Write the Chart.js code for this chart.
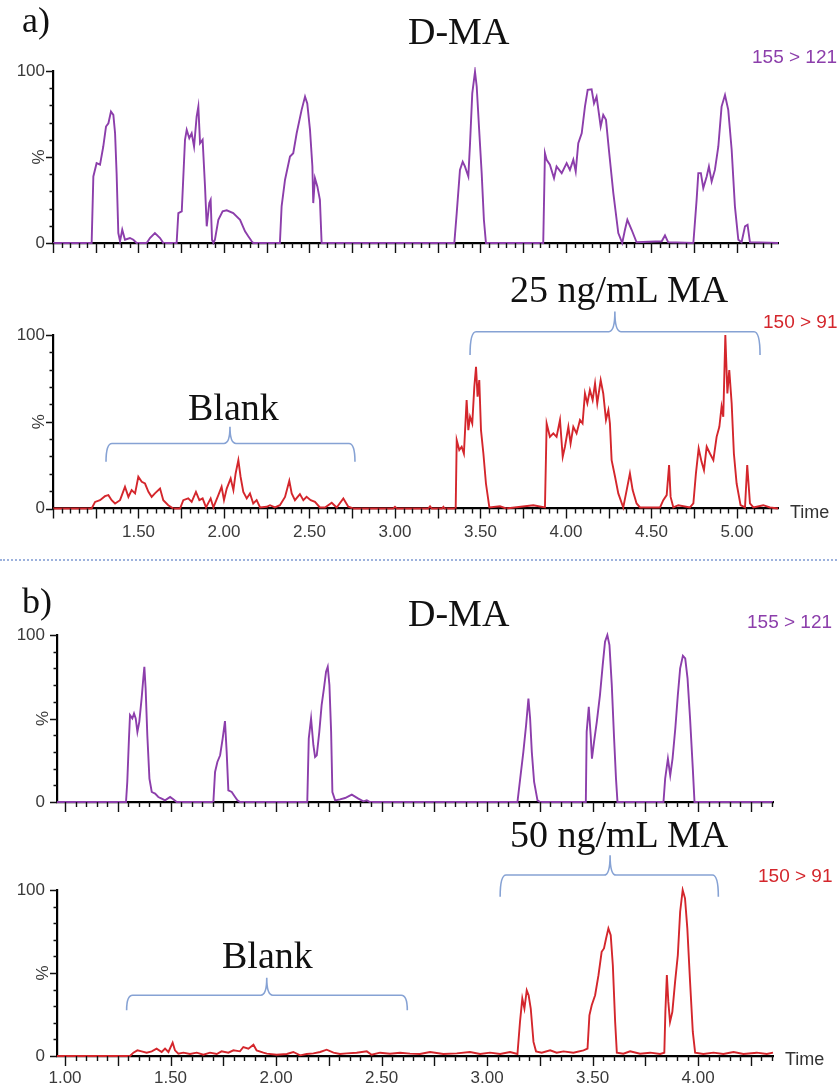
<!DOCTYPE html>
<html>
<head>
<meta charset="utf-8">
<script src="https://cdn.jsdelivr.net/npm/chart.js@4.4.0/dist/chart.umd.min.js"></script>
<style>
  body { margin: 0; background: #fff; width: 837px; height: 1091px; position: relative; overflow: hidden; }
  .panel { position: absolute; left: 0; width: 837px; }
  .lbl { position: absolute; white-space: nowrap; line-height: 1; }
  .serif { font-family: "Liberation Serif", "Times New Roman", serif; color: #111; }
  .sans { font-family: "Liberation Sans", Arial, sans-serif; }
  #sep { position: absolute; left: 0; width: 837px; top: 559px; border-top: 2px dotted #9db2dd; }
</style>
</head>
<body>
<div class="panel" style="top:0;height:265px"><canvas id="cA1"></canvas></div>
<div class="panel" style="top:265px;height:290px"><canvas id="cA2"></canvas></div>
<div id="sep"></div>
<div class="panel" style="top:565px;height:265px"><canvas id="cB1"></canvas></div>
<div class="panel" style="top:835px;height:256px"><canvas id="cB2"></canvas></div>
<script>
// a) D-MA, 155 > 121
const tA1 = [1.00, 1.226, 1.236, 1.255, 1.275, 1.294, 1.310, 1.324, 1.339, 1.353, 1.363, 1.372, 1.382, 1.392, 1.405, 1.421, 1.450, 1.470, 1.489, 1.548,
  1.567, 1.596, 1.626, 1.645, 1.723, 1.733, 1.753, 1.772, 1.782, 1.797, 1.811, 1.825, 1.840, 1.850, 1.860, 1.875, 1.889, 1.899, 1.914, 1.922,
  1.930, 1.938, 1.947, 1.967, 1.992, 2.016, 2.054, 2.094, 2.123, 2.142, 2.162, 2.171, 2.327, 2.337, 2.357, 2.386, 2.405, 2.425, 2.454, 2.474,
  2.487, 2.503, 2.517, 2.522, 2.532, 2.546, 2.561, 2.571,
  3.347, 3.361, 3.380, 3.396, 3.409, 3.429, 3.439, 3.452, 3.468, 3.478, 3.491, 3.507, 3.520, 3.532,
  3.867, 3.877, 3.887, 3.906, 3.930, 3.945, 3.975, 4.004, 4.023, 4.043, 4.057, 4.072, 4.092, 4.111, 4.127, 4.150, 4.164, 4.179, 4.203, 4.218,
  4.234, 4.251, 4.277, 4.306, 4.329, 4.345, 4.359, 4.384, 4.413, 4.560, 4.579, 4.598,
  4.745, 4.764, 4.774, 4.789, 4.803, 4.823, 4.836, 4.852, 4.871, 4.891, 4.910, 4.930, 4.949, 4.969, 4.988, 5.008, 5.027, 5.047, 5.062, 5.076, 5.24];
const pA1 = [0, 0, 38.7, 46.4, 45.5, 56.1, 67.7, 69.6, 76.4, 74.5, 63.8, 40.6, 5.8, 1, 7.7, 1.9, 2.9, 1.9, 0, 0,
  2.9, 5.8, 2.9, 0, 0, 17.4, 18.4, 60, 65.8, 60.9, 63.8, 56.1, 73.5, 79.3, 58, 60, 32.9, 9.7, 23.2, 25.1,
  1.9, 0, 1.9, 13.5, 18.4, 19, 17.4, 13.5, 6.8, 3.9, 1, 0, 0, 21.3, 36.8, 50.3, 52.2, 63.8, 77.4, 85.1,
  81.2, 65.8, 44.5, 23.2, 37.7, 32.9, 25.1, 0,
  0, 17.4, 42.5, 47.2, 44.5, 38.7, 58, 87, 99.6, 91, 68, 40.6, 13.5, 0,
  0, 52.2, 48.4, 45.5, 37.7, 44.5, 40.6, 46.4, 42.5, 48.4, 41.6, 58, 63.8, 79.3, 89, 89.4, 81.2, 85.1, 67.7, 74.5,
  71.6, 54.2, 29, 5.8, 0, 7.7, 13.5, 7.7, 0.4, 1, 4.4, 0.4,
  0, 25.1, 40.6, 40.6, 31.9, 38.7, 44.5, 35.8, 42.5, 56.1, 79.3, 86, 77.4, 54.2, 21.3, 1.9, 0.4, 9.7, 10.6, 0.4, 0];

// a) MA, 150 > 91
const tA2 = [1.00, 1.226, 1.246, 1.275, 1.304, 1.324, 1.343, 1.363, 1.392, 1.421, 1.441, 1.460, 1.480, 1.499, 1.519, 1.538, 1.558, 1.577, 1.596, 1.626,
  1.645, 1.674, 1.704, 1.743, 1.762, 1.791, 1.811, 1.836, 1.856, 1.875, 1.895, 1.922, 1.938, 1.967, 1.986, 2.000, 2.016, 2.039, 2.055, 2.068,
  2.084, 2.097, 2.113, 2.133, 2.152, 2.171, 2.191, 2.211, 2.250, 2.269, 2.298, 2.327, 2.357, 2.382, 2.396, 2.415, 2.444, 2.464, 2.483, 2.507,
  2.532, 2.561, 2.591, 2.630, 2.659, 2.698, 2.727, 2.756, 2.990, 3.000, 3.010, 3.195, 3.205, 3.215, 3.275, 3.283, 3.290, 3.355,
  3.361, 3.376, 3.390, 3.403, 3.419, 3.429, 3.439, 3.452, 3.464, 3.474, 3.483, 3.493, 3.503, 3.517, 3.532, 3.552, 3.614, 3.650, 3.809, 3.877,
  3.887, 3.906, 3.926, 3.945, 3.965, 3.981, 3.994, 4.014, 4.027, 4.043, 4.062, 4.082, 4.097, 4.111, 4.125, 4.140, 4.156, 4.170, 4.183, 4.203,
  4.218, 4.234, 4.248, 4.257, 4.267, 4.287, 4.306, 4.335, 4.355, 4.374, 4.390, 4.413, 4.433, 4.550, 4.569, 4.589, 4.603, 4.612, 4.628, 4.657,
  4.725, 4.745, 4.760, 4.776, 4.793, 4.807, 4.823, 4.842, 4.862, 4.881, 4.897, 4.910, 4.920, 4.932, 4.944, 4.955, 4.969, 4.982, 4.998, 5.021,
  5.047, 5.060, 5.076, 5.096, 5.154, 5.193, 5.24];
const pA2 = [0, 0, 3.8, 4.8, 7.1, 7.7, 4.8, 2.9, 4.8, 12.5, 6.7, 10.6, 8.7, 18.3, 15.4, 14.4, 9.6, 6.7, 8.7, 11.5,
  4.8, 1.9, 0, 0, 4.8, 5.8, 3.8, 9.6, 4.8, 5.8, 0.6, 5.8, 0.6, 7.7, 12.5, 4.8, 11.5, 17.3, 10.6, 20.2,
  27.9, 18.3, 9.6, 5.8, 8.7, 2.9, 4.8, 0.6, 1, 1.9, 0.6, 1.9, 6.7, 16, 8.7, 4.8, 8.3, 4.8, 6.7, 4.8,
  3.8, 0.6, 0.6, 3.3, 0.6, 5.8, 1, 0, 0, 1, 0, 0, 1.3, 0, 0, 1, 0, 0,
  39.4, 33.7, 35.6, 31.7, 62.5, 45.2, 52.9, 49, 70.2, 81.7, 64.4, 74, 45.2, 31.7, 14.4, 0.6, 1.3, 0, 1.9, 0.6,
  49, 41.3, 43.3, 41.3, 51, 29.8, 35.6, 47.1, 37.5, 47.1, 43.3, 51, 49, 66.3, 60.6, 68.3, 62.5, 72.1, 60.6, 74,
  66.3, 51, 56.7, 49, 27.9, 18.3, 8.7, 0.6, 10.6, 20.2, 10.6, 2.9, 0.6, 0.6, 4.8, 7.7, 25, 6.7, 0.6, 1.9,
  0.6, 2.9, 20.2, 34.6, 26.9, 22.1, 35.6, 31.7, 27.9, 41.3, 47.1, 58.7, 52.9, 100, 66.3, 79.8, 60.6, 31.7, 14.4, 1.9,
  0.6, 25, 2.9, 0.6, 1.9, 0.6, 0];

// b) D-MA, 155 > 121
const tB1 = [0.962, 1.289, 1.295, 1.303, 1.308, 1.319, 1.327, 1.335, 1.343, 1.352, 1.363, 1.371, 1.376, 1.382, 1.390, 1.400, 1.411, 1.427, 1.442, 1.458,
  1.474, 1.498, 1.513, 1.529, 1.703, 1.711, 1.722, 1.735, 1.747, 1.758, 1.766, 1.774, 1.790, 1.806, 1.817, 1.829,
  2.148, 2.155, 2.166, 2.177, 2.185, 2.193, 2.205, 2.216, 2.227, 2.237, 2.245, 2.253, 2.261, 2.267, 2.280, 2.303, 2.327, 2.359, 2.390, 2.414,
  2.430, 2.445, 3.144, 3.157, 3.172, 3.185, 3.196, 3.204, 3.212, 3.223, 3.239, 3.251,
  3.468, 3.472, 3.482, 3.491, 3.497, 3.507, 3.520, 3.535, 3.548, 3.559, 3.570, 3.580, 3.591, 3.602, 3.611, 3.618,
  3.836, 3.844, 3.857, 3.868, 3.879, 3.892, 3.904, 3.915, 3.928, 3.939, 3.950, 3.962, 3.975, 3.983, 4.355];
const pB1 = [0, 0, 12, 38, 52, 50, 53, 50, 42, 48, 62, 74, 81, 68, 40, 14, 6, 5, 3, 2,
  1, 3, 1.6, 0, 0, 18, 24, 28, 38, 48.4, 30, 7, 6, 3, 1, 0,
  0, 38, 50, 34, 27, 28, 42, 58, 68, 78, 81, 70, 42, 6, 1, 1.6, 2.4, 4.4, 2, 0.4,
  1, 0, 0, 14, 30, 46, 62, 50, 30, 12, 1, 0,
  0, 42, 57, 40, 26, 36, 48, 64, 82, 96, 100, 94, 70, 38, 14, 0,
  0, 14, 26, 16, 26, 44, 64, 80, 87.6, 86, 74, 50, 20, 0, 0];

// b) MA, 150 > 91
const tB2 = [0.962, 1.308, 1.324, 1.343, 1.363, 1.387, 1.411, 1.434, 1.458, 1.474, 1.490, 1.510, 1.521, 1.537, 1.561, 1.592, 1.624, 1.656, 1.687, 1.719,
  1.742, 1.774, 1.798, 1.829, 1.845, 1.869, 1.893, 1.908, 1.940, 1.956, 2.003, 2.051, 2.082, 2.114, 2.145, 2.177, 2.209, 2.240, 2.272, 2.303,
  2.335, 2.382, 2.430, 2.453, 2.493, 2.540, 2.588, 2.635, 2.682, 2.730, 2.793, 2.856, 2.919, 2.967, 3.014, 3.062, 3.109, 3.144,
  3.156, 3.167, 3.177, 3.188, 3.197, 3.207, 3.220, 3.232, 3.259, 3.299, 3.330, 3.362, 3.409, 3.457, 3.476,
  3.485, 3.496, 3.512, 3.528, 3.543, 3.554, 3.564, 3.575, 3.586, 3.596, 3.607, 3.615, 3.646, 3.678, 3.725, 3.773, 3.820, 3.840,
  3.845, 3.852, 3.859, 3.867, 3.878, 3.891, 3.904, 3.915, 3.927, 3.938, 3.949, 3.962, 3.975, 3.986,
  4.025, 4.073, 4.120, 4.168, 4.215, 4.278, 4.326, 4.355];
const pB2 = [0, 0, 2, 3.4, 2.8, 2, 2.8, 4.4, 2.4, 4.4, 2.4, 8, 3.4, 1.4, 2, 1.2, 2, 0.8, 2, 1.2,
  2.8, 2, 3.4, 2.8, 5.4, 4.4, 6.8, 3.4, 2, 1.4, 0.8, 1.2, 2.4, 0.4, 1.2, 1.6, 2.4, 3.8, 2, 1.2,
  1.6, 2, 2.8, 0.8, 2, 1.4, 2, 1.4, 1.2, 2.4, 1.2, 1.6, 2.4, 1.2, 2, 1.2, 2.4, 1.2,
  20.5, 34.6, 28.6, 39.6, 36.6, 28.6, 8.5, 2.8, 2, 3.4, 2, 2.8, 2, 3.4, 4.4,
  24.5, 30.6, 36.6, 48.7, 62.8, 64.8, 70.8, 76.9, 72.8, 54.7, 20.5, 2, 1.4, 2.8, 1.4, 2, 1.2, 2,
  26.6, 48.7, 32.6, 20.5, 26.6, 44.7, 60.8, 86.9, 100, 95, 76.9, 44.7, 14.5, 2,
  1.2, 2, 1.2, 2.4, 1.2, 2, 1.2, 2];

// x ranges of the two figures
const rangeA = [1.00, 5.24];
const rangeB = [0.962, 4.355];

// brackets (in data units: time from/mid/to, % hook/line/tip)
const bracketsA = [
  {from: 1.31, mid: 2.035, to: 2.766, hook: 26.9, line: 37.5, tip: 47.1},
  {from: 3.439, mid: 4.286, to: 5.135, hook: 88.5, line: 101.9, tip: 113.5}
];
const bracketsB = [
  {from: 1.292, mid: 1.956, to: 2.622, hook: 27.6, line: 36.6, tip: 47.1},
  {from: 3.062, mid: 3.583, to: 4.096, hook: 96, line: 109, tip: 121}
];

const PURPLE = '#8c3eab';
const RED = '#d4262c';
const BLUE = '#86a2d4';
const TICK_FONT = {family: '"Liberation Sans", Arial, sans-serif', size: 17};

const axisTicks = {
  id: 'axisTicks',
  afterDraw(chart) {
    const {ctx, chartArea} = chart;
    const x = chart.scales.x, y = chart.scales.y;
    ctx.save();
    ctx.strokeStyle = '#111';
    ctx.lineWidth = 1.4;
    ctx.beginPath();
    x.ticks.forEach(t => {
      const px = Math.round(x.getPixelForValue(t.value)) + 0.5;
      const len = Math.round(t.value * 100) % 25 === 0 ? 10 : 5;
      ctx.moveTo(px, chartArea.bottom);
      ctx.lineTo(px, chartArea.bottom + len);
    });
    y.ticks.forEach(t => {
      const py = Math.round(y.getPixelForValue(t.value)) + 0.5;
      const len = t.value % 50 === 0 ? 7 : 3.5;
      ctx.moveTo(chartArea.left, py);
      ctx.lineTo(chartArea.left - len, py);
    });
    ctx.stroke();
    ctx.fillStyle = '#3a3a3a';
    ctx.font = '17px "Liberation Sans", Arial, sans-serif';
    ctx.textAlign = 'center';
    ctx.textBaseline = 'middle';
    ctx.translate(chartArea.left - 14, y.getPixelForValue(50));
    ctx.rotate(-Math.PI / 2);
    ctx.fillText('%', 0, 0);
    ctx.restore();
  }
};

const brackets = {
  id: 'brackets',
  afterDraw(chart, args, opts) {
    if (!opts.items) return;
    const {ctx} = chart;
    const x = chart.scales.x, y = chart.scales.y;
    ctx.save();
    ctx.strokeStyle = BLUE;
    ctx.lineWidth = 1.6;
    opts.items.forEach(b => {
      const xl = x.getPixelForValue(b.from), xm = x.getPixelForValue(b.mid), xr = x.getPixelForValue(b.to);
      const yh = y.getPixelForValue(b.hook), yl = y.getPixelForValue(b.line), yt = y.getPixelForValue(b.tip);
      const r = 6;
      ctx.beginPath();
      ctx.moveTo(xl, yh);
      ctx.quadraticCurveTo(xl, yl, xl + r, yl);
      ctx.lineTo(xm - r, yl);
      ctx.quadraticCurveTo(xm, yl, xm, yt);
      ctx.quadraticCurveTo(xm, yl, xm + r, yl);
      ctx.lineTo(xr - r, yl);
      ctx.quadraticCurveTo(xr, yl, xr, yh);
      ctx.stroke();
    });
    ctx.restore();
  }
};

function tickValues(min, max) {
  const vals = [];
  for (let k = Math.ceil(min / 0.05 - 1e-6); k * 0.05 <= max + 1e-6; k++) {
    vals.push(+(k * 0.05).toFixed(2));
  }
  return vals;
}

function buildPanel(id, p) {
  const points = p.t.map((t, i) => ({x: t, y: p.pct[i]}));
  return new Chart(document.getElementById(id), {
    type: 'line',
    data: {
      datasets: [{
        data: points,
        borderColor: p.color,
        borderWidth: 1.9,
        pointRadius: 0,
        tension: 0,
        clip: 4
      }]
    },
    options: {
      responsive: true,
      maintainAspectRatio: false,
      animation: false,
      layout: {padding: {left: 0, top: p.padTop, right: 837 - p.right, bottom: p.padBottom}},
      plugins: {
        legend: {display: false},
        tooltip: {enabled: false},
        brackets: {items: p.brackets}
      },
      scales: {
        x: {
          type: 'linear',
          min: p.range[0],
          max: p.range[1],
          afterFit: s => { s.height = p.xHeight; },
          afterBuildTicks: s => { s.ticks = tickValues(p.range[0], p.range[1]).map(v => ({value: v})); },
          grid: {display: false, drawTicks: false},
          border: {display: true, color: '#000', width: 2.2},
          ticks: {
            display: p.labels,
            autoSkip: false,
            maxRotation: 0,
            padding: p.labelPad,
            color: '#3a3a3a',
            font: TICK_FONT,
            callback: v => (Math.round(v * 100) % 50 === 0 && v > p.range[0] + 0.02) ? v.toFixed(2) : ''
          }
        },
        y: {
          min: 0,
          max: 100,
          afterFit: s => { s.width = p.left; },
          grid: {display: false, drawTicks: false},
          border: {display: true, color: '#000', width: 2.2},
          ticks: {
            stepSize: 10,
            autoSkip: false,
            padding: p.yPad,
            color: '#3a3a3a',
            font: TICK_FONT,
            callback: v => (v === 0 || v === 100) ? String(v) : ''
          }
        }
      }
    },
    plugins: [axisTicks, brackets]
  });
}

buildPanel('cA1', {t: tA1, pct: pA1, color: PURPLE, range: rangeA, left: 53, right: 778,
  padTop: 71, padBottom: 2, xHeight: 20, labels: false, labelPad: 0, yPad: 8, brackets: null});
buildPanel('cA2', {t: tA2, pct: pA2, color: RED, range: rangeA, left: 53, right: 778,
  padTop: 70, padBottom: 16.5, xHeight: 30, labels: true, labelPad: 14, yPad: 8, brackets: bracketsA});
buildPanel('cB1', {t: tB1, pct: pB1, color: PURPLE, range: rangeB, left: 57, right: 773,
  padTop: 70, padBottom: 8, xHeight: 20, labels: false, labelPad: 0, yPad: 12, brackets: null});
buildPanel('cB2', {t: tB2, pct: pB2, color: RED, range: rangeB, left: 57, right: 773,
  padTop: 55, padBottom: 5, xHeight: 30, labels: true, labelPad: 12, yPad: 12, brackets: bracketsB});

// text annotations: [text, left, baseline, size, kind, color]
const labels = [
  ['a)', 22, 32, 36, 'serif', '#111'],
  ['D-MA', 408, 44, 38, 'serif', '#111'],
  ['155 > 121', 752, 63, 19, 'sans', PURPLE],
  ['25 ng/mL MA', 510, 302, 38, 'serif', '#111'],
  ['150 > 91', 763, 328, 19, 'sans', RED],
  ['Blank', 188, 420, 38, 'serif', '#111'],
  ['Time', 790, 518, 18, 'sans', '#333'],
  ['b)', 22, 613, 36, 'serif', '#111'],
  ['D-MA', 408, 626, 38, 'serif', '#111'],
  ['155 > 121', 747, 628, 19, 'sans', PURPLE],
  ['50 ng/mL MA', 510, 847, 38, 'serif', '#111'],
  ['150 > 91', 758, 882, 19, 'sans', RED],
  ['Blank', 222, 968, 38, 'serif', '#111'],
  ['Time', 785, 1065, 18, 'sans', '#333']
];
labels.forEach(([text, left, base, size, kind, color]) => {
  const el = document.createElement('div');
  el.className = 'lbl ' + kind;
  el.textContent = text;
  el.style.left = left + 'px';
  el.style.top = (base - (kind === 'serif' ? 0.8375 : 0.8465) * size) + 'px';
  el.style.fontSize = size + 'px';
  el.style.color = color;
  document.body.appendChild(el);
});
</script>
</body>
</html>
